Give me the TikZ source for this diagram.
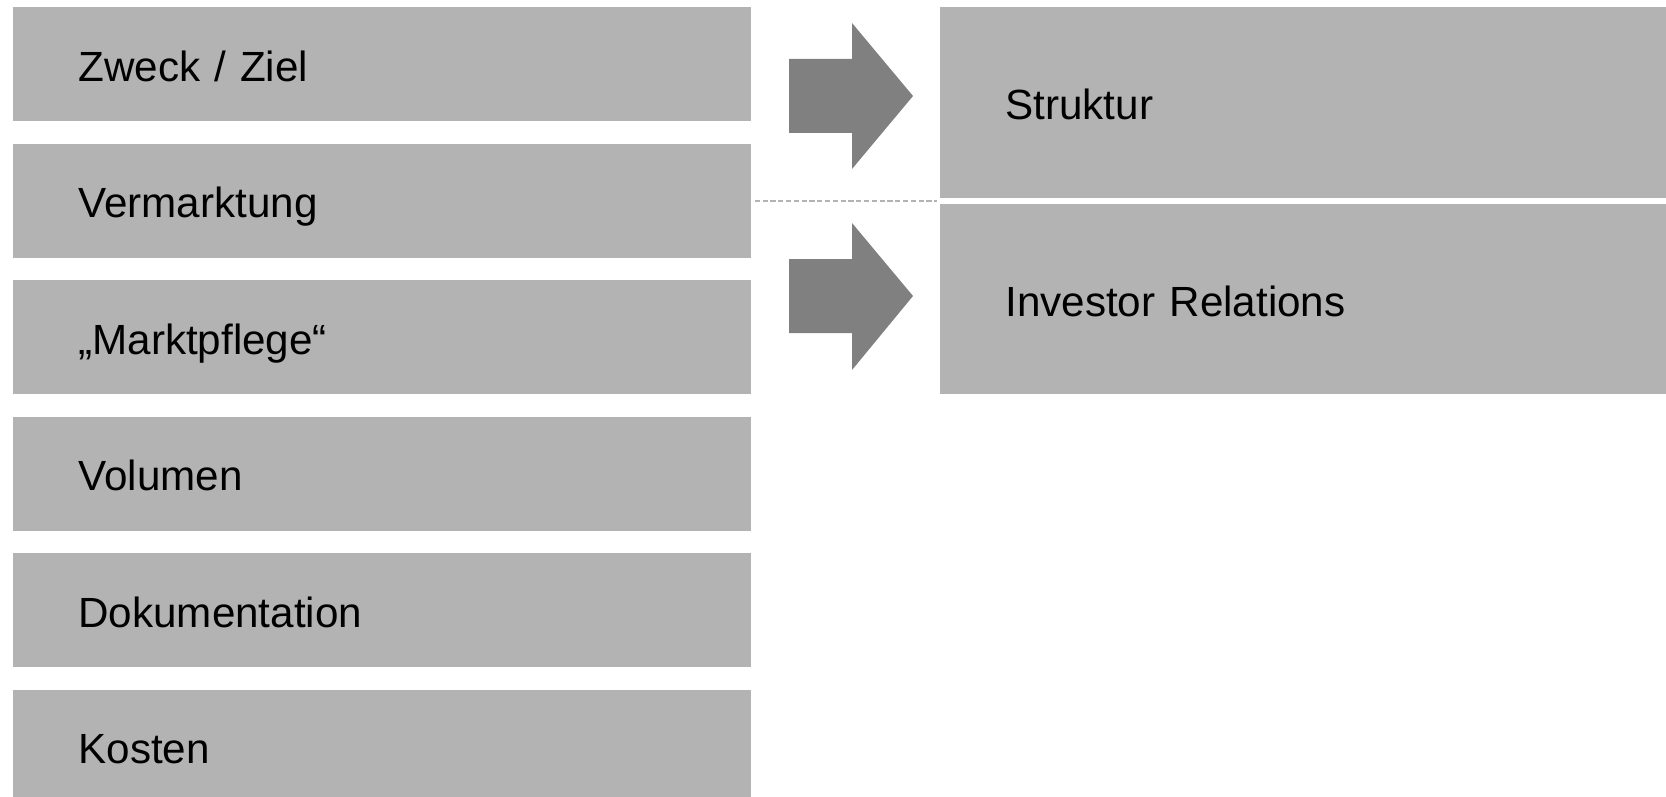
\documentclass[tikz,border=0pt]{standalone}
\usepackage{fontspec}
\setmainfont{Liberation Sans}
\usetikzlibrary{positioning, calc}
\definecolor{boxgray}{HTML}{B3B3B3}
\definecolor{arrowgray}{HTML}{808080}
\definecolor{dashgray}{HTML}{B3B3B3}

\begin{document}
\begin{tikzpicture}[x=0.5pt, y=-0.5pt,
    leftbox/.style={rectangle, fill=boxgray, anchor=north west, minimum width=369pt, minimum height=57pt,
        text width=304pt, inner xsep=32.5pt, inner ysep=0pt, align=left,
        text height=17pt, text depth=0pt, font=\fontsize{21.1}{25}\selectfont},
    rightbox/.style={leftbox, minimum width=363pt, text width=298pt},
    bigarrow/.style={fill=arrowgray}]
    \useasboundingbox (0,0) rectangle (1666,797);

    % left column
    \path (13,7)     node[leftbox] (zweck) {Zweck / Ziel};
    \path (13,143.5) node[leftbox] (vermarktung) {Vermarktung};
    \path (13,280)   node[leftbox] (marktpflege) {„Marktpflege“};
    \path (13,416.5) node[leftbox] (volumen) {Volumen};
    \path (13,553)   node[leftbox] (doku) {Dokumentation};
    \path (13,689.5) node[leftbox] (kosten) {Kosten};

    % right column
    \path (940,7)   node[rightbox, minimum height=95.5pt] (struktur) {Struktur};
    \path (940,204) node[rightbox, minimum height=95pt] (investor) {Investor Relations};

    % arrows
    \path[bigarrow] (789,59) -- (852,59) -- (852,23) -- (913,96) -- (852,169) -- (852,133) -- (789,133) -- cycle;
    \path[bigarrow] (789,259) -- (852,259) -- (852,223) -- (913,296) -- (852,370) -- (852,333) -- (789,333) -- cycle;

    \coordinate (gap) at (struktur.south west |- 0,201);
    \draw[dashgray, line width=1.3pt, dash pattern=on 2.6pt off 1.3pt, shorten <=1.5pt, shorten >=1.5pt]
        (vermarktung.east |- gap) -- (gap);
\end{tikzpicture}
\end{document}
